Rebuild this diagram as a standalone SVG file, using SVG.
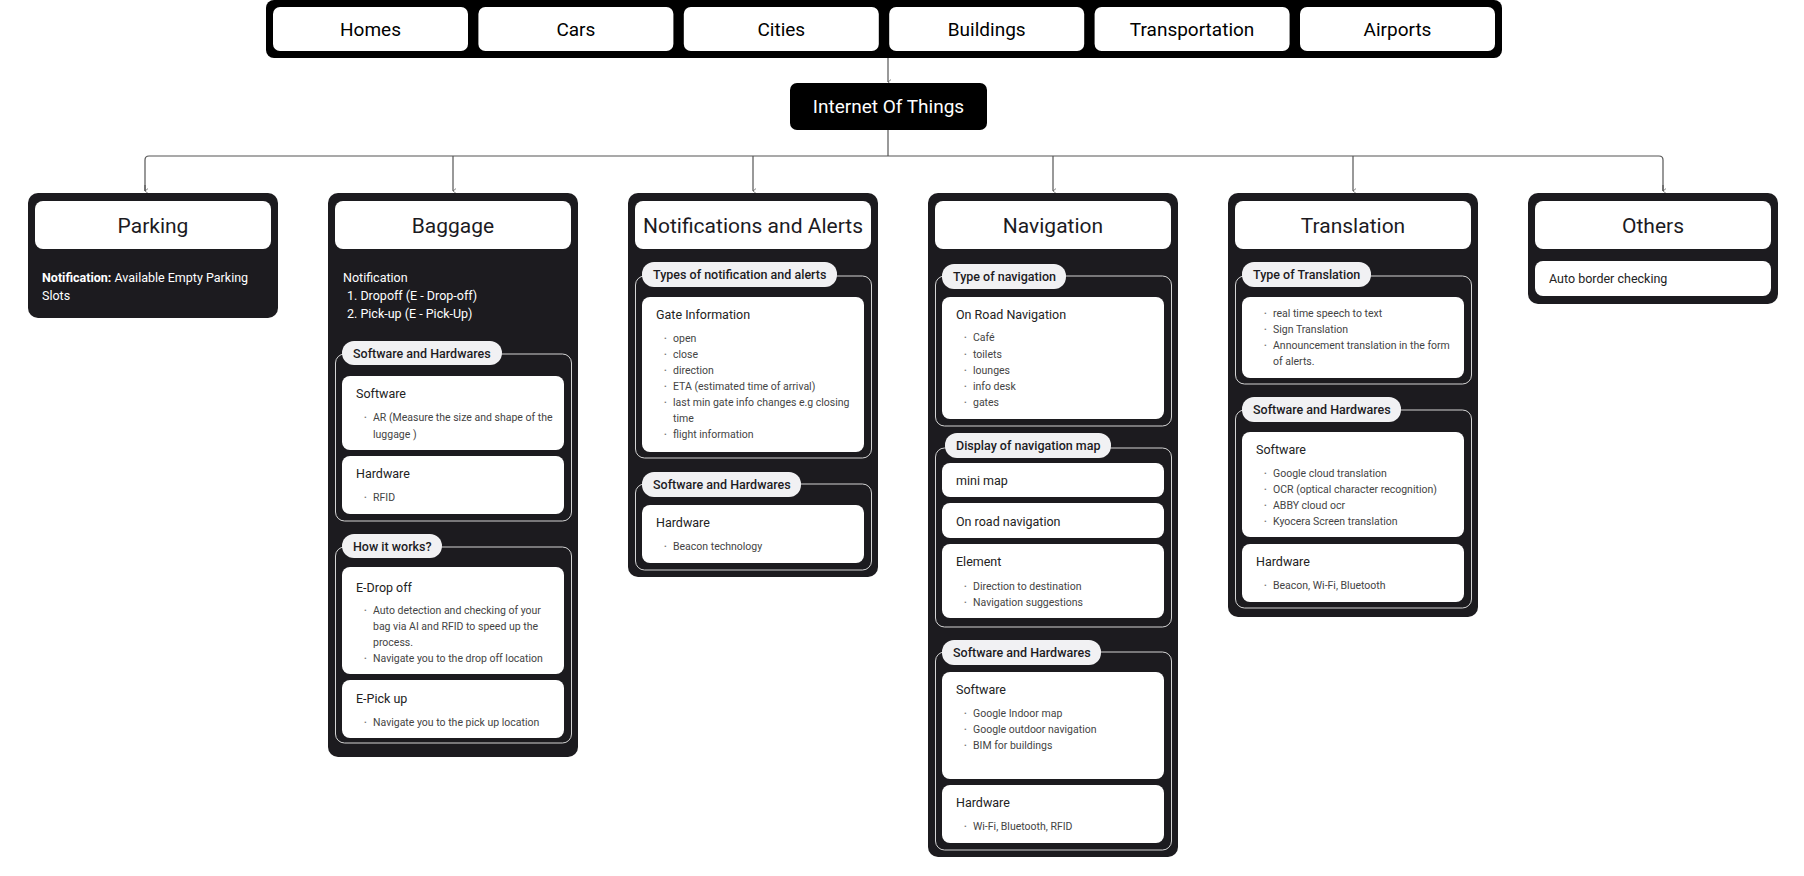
<svg xmlns="http://www.w3.org/2000/svg" width="1804" height="876" viewBox="0 0 1804 876">
<style>
text{font-family:Roboto,"Liberation Sans",sans-serif}
.panel{fill:#1c1b1f}
.hdr{fill:#fff}
.ht{font-size:21px;fill:#1c1b1f;text-anchor:middle}
.pill{fill:#fff}
.pt{font-size:19px;fill:#000;text-anchor:middle}
.ol{fill:none;stroke:#d4d4d4;stroke-width:1}
.tag{fill:#f1f1f3}
.tt{font-size:12.5px;font-weight:500;fill:#1c1b1f}
.card{fill:#fff}
.ct{font-size:12.5px;fill:#222}
.bt{font-size:10.5px;fill:#444}
.bd{font-size:8px;fill:#777}
.wt{font-size:12.5px;fill:#fff}
.con{fill:none;stroke:#555;stroke-width:1.2}
</style>
<defs>
<marker id="ah" viewBox="0 0 10 10" refX="5" refY="9" markerWidth="6" markerHeight="6" orient="auto-start-reverse" markerUnits="userSpaceOnUse"><path d="M1,4 L5,9 L9,4" fill="none" stroke="#555" stroke-width="1.2"/></marker>
</defs>
<rect width="1804" height="876" fill="#fff"/>

<g id="connectors">
<line class="con" x1="888" y1="58" x2="888" y2="82" marker-end="url(#ah)"/>
<line class="con" x1="888" y1="130" x2="888" y2="156"/>
<path class="con" d="M145,191 V160 Q145,156 149,156 H1659 Q1663,156 1663,160 V191"/>
<line class="con" x1="453" y1="156" x2="453" y2="191" marker-end="url(#ah)"/>
<line class="con" x1="753" y1="156" x2="753" y2="191" marker-end="url(#ah)"/>
<line class="con" x1="1053" y1="156" x2="1053" y2="191" marker-end="url(#ah)"/>
<line class="con" x1="1353" y1="156" x2="1353" y2="191" marker-end="url(#ah)"/>
<line class="con" x1="145" y1="185" x2="145" y2="191" marker-end="url(#ah)"/>
<line class="con" x1="1663" y1="185" x2="1663" y2="191" marker-end="url(#ah)"/>
</g>

<g id="sources">
<rect x="266" y="0" width="1236" height="58" rx="8" fill="#000"/>
<rect class="pill" x="273" y="7" width="195" height="44" rx="7"/><text class="pt" x="370.5" y="36">Homes</text>
<rect class="pill" x="478.4" y="7" width="195" height="44" rx="7"/><text class="pt" x="575.9" y="36">Cars</text>
<rect class="pill" x="683.8" y="7" width="195" height="44" rx="7"/><text class="pt" x="781.3" y="36">Cities</text>
<rect class="pill" x="889.2" y="7" width="195" height="44" rx="7"/><text class="pt" x="986.7" y="36">Buildings</text>
<rect class="pill" x="1094.6" y="7" width="195" height="44" rx="7"/><text class="pt" x="1192.1" y="36">Transportation</text>
<rect class="pill" x="1300" y="7" width="195" height="44" rx="7"/><text class="pt" x="1397.5" y="36">Airports</text>
</g>

<g id="iot">
<rect x="790" y="83" width="197" height="47" rx="7" fill="#000"/>
<text x="888.5" y="113" font-size="19" fill="#fff" text-anchor="middle">Internet Of Things</text>
</g>

<g id="parking">
<rect class="panel" x="28" y="193" width="250" height="125" rx="10"/>
<rect class="hdr" x="35" y="201" width="236" height="48" rx="8"/>
<text class="ht" x="153" y="233">Parking</text>
<text class="wt" x="42" y="282"><tspan font-weight="bold">Notification:</tspan> Available Empty Parking</text>
<text class="wt" x="42" y="300">Slots</text>
</g>

<g id="baggage">
<rect class="panel" x="328" y="193" width="250" height="564" rx="10"/>
<rect class="hdr" x="335" y="201" width="236" height="48" rx="8"/>
<text class="ht" x="453" y="233">Baggage</text>
<text class="wt" x="343" y="282">Notification</text>
<text class="wt" x="347" y="300">1. Dropoff (E - Drop-off)</text>
<text class="wt" x="347" y="318">2. Pick-up (E - Pick-Up)</text>
<rect class="ol" x="335.5" y="354" width="236" height="167" rx="9"/>
<rect class="tag" x="342" y="341" width="160" height="24" rx="12"/>
<text class="tt" x="353" y="357.5">Software and Hardwares</text>
<rect class="card" x="342" y="376" width="222" height="74" rx="8"/>
<text class="ct" x="356" y="398">Software</text>
<text class="bd" x="364" y="420">•</text><text class="bt" x="373" y="421">AR (Measure the size and shape of the</text>
<text class="bt" x="373" y="438">luggage )</text>
<rect class="card" x="342" y="456" width="222" height="58" rx="8"/>
<text class="ct" x="356" y="478">Hardware</text>
<text class="bd" x="364" y="500">•</text><text class="bt" x="373" y="501">RFID</text>
<rect class="ol" x="335.5" y="547" width="236" height="196" rx="9"/>
<rect class="tag" x="342" y="534" width="100" height="24" rx="12"/>
<text class="tt" x="353" y="550.5">How it works?</text>
<rect class="card" x="342" y="567" width="222" height="107" rx="8"/>
<text class="ct" x="356" y="592">E-Drop off</text>
<text class="bd" x="364" y="613">•</text><text class="bt" x="373" y="614">Auto detection and checking of your</text>
<text class="bt" x="373" y="630">bag via AI and RFID to speed up the</text>
<text class="bt" x="373" y="646">process.</text>
<text class="bd" x="364" y="661">•</text><text class="bt" x="373" y="662">Navigate you to the drop off location</text>
<rect class="card" x="342" y="680" width="222" height="58" rx="8"/>
<text class="ct" x="356" y="703">E-Pick up</text>
<text class="bd" x="364" y="725">•</text><text class="bt" x="373" y="726">Navigate you to the pick up location</text>
</g>

<g id="notifications">
<rect class="panel" x="628" y="193" width="250" height="384" rx="10"/>
<rect class="hdr" x="635" y="201" width="236" height="48" rx="8"/>
<text class="ht" x="753" y="233">Notifications and Alerts</text>
<rect class="ol" x="635.5" y="276" width="236" height="182" rx="9"/>
<rect class="tag" x="642" y="262" width="195" height="25" rx="12"/>
<text class="tt" x="653" y="279">Types of notification and alerts</text>
<rect class="card" x="642" y="297" width="222" height="155" rx="8"/>
<text class="ct" x="656" y="319">Gate Information</text>
<text class="bd" x="664" y="341">•</text><text class="bt" x="673" y="342">open</text>
<text class="bd" x="664" y="357">•</text><text class="bt" x="673" y="358">close</text>
<text class="bd" x="664" y="373">•</text><text class="bt" x="673" y="374">direction</text>
<text class="bd" x="664" y="389">•</text><text class="bt" x="673" y="390">ETA (estimated time of arrival)</text>
<text class="bd" x="664" y="405">•</text><text class="bt" x="673" y="406">last min gate info changes e.g closing</text>
<text class="bt" x="673" y="422">time</text>
<text class="bd" x="664" y="437">•</text><text class="bt" x="673" y="438">flight information</text>
<rect class="ol" x="635.5" y="484" width="236" height="86" rx="9"/>
<rect class="tag" x="642" y="472" width="159" height="25" rx="12"/>
<text class="tt" x="653" y="489">Software and Hardwares</text>
<rect class="card" x="642" y="505" width="222" height="58" rx="8"/>
<text class="ct" x="656" y="527">Hardware</text>
<text class="bd" x="664" y="549">•</text><text class="bt" x="673" y="550">Beacon technology</text>
</g>

<g id="navigation">
<rect class="panel" x="928" y="193" width="250" height="664" rx="10"/>
<rect class="hdr" x="935" y="201" width="236" height="48" rx="8"/>
<text class="ht" x="1053" y="233">Navigation</text>
<rect class="ol" x="935.5" y="276" width="236" height="150" rx="9"/>
<rect class="tag" x="942" y="264" width="124" height="25" rx="12"/>
<text class="tt" x="953" y="281">Type of navigation</text>
<rect class="card" x="942" y="297" width="222" height="122" rx="8"/>
<text class="ct" x="956" y="319">On Road Navigation</text>
<text class="bd" x="964" y="340">•</text><text class="bt" x="973" y="341">Café</text>
<text class="bd" x="964" y="357">•</text><text class="bt" x="973" y="358">toilets</text>
<text class="bd" x="964" y="373">•</text><text class="bt" x="973" y="374">lounges</text>
<text class="bd" x="964" y="389">•</text><text class="bt" x="973" y="390">info desk</text>
<text class="bd" x="964" y="405">•</text><text class="bt" x="973" y="406">gates</text>
<rect class="ol" x="935.5" y="448" width="236" height="179" rx="9"/>
<rect class="tag" x="945" y="433" width="166" height="25" rx="12"/>
<text class="tt" x="956" y="450">Display of navigation map</text>
<rect class="card" x="942" y="463" width="222" height="34" rx="8"/>
<text class="ct" x="956" y="485">mini map</text>
<rect class="card" x="942" y="503" width="222" height="35" rx="8"/>
<text class="ct" x="956" y="526">On road navigation</text>
<rect class="card" x="942" y="544" width="222" height="74" rx="8"/>
<text class="ct" x="956" y="566">Element</text>
<text class="bd" x="964" y="589">•</text><text class="bt" x="973" y="590">Direction to destination</text>
<text class="bd" x="964" y="605">•</text><text class="bt" x="973" y="606">Navigation suggestions</text>
<rect class="ol" x="935.5" y="652" width="236" height="198" rx="9"/>
<rect class="tag" x="942" y="640" width="159" height="25" rx="12"/>
<text class="tt" x="953" y="657">Software and Hardwares</text>
<rect class="card" x="942" y="672" width="222" height="107" rx="8"/>
<text class="ct" x="956" y="694">Software</text>
<text class="bd" x="964" y="716">•</text><text class="bt" x="973" y="717">Google Indoor map</text>
<text class="bd" x="964" y="732">•</text><text class="bt" x="973" y="733">Google outdoor navigation</text>
<text class="bd" x="964" y="748">•</text><text class="bt" x="973" y="749">BIM for buildings</text>
<rect class="card" x="942" y="785" width="222" height="58" rx="8"/>
<text class="ct" x="956" y="807">Hardware</text>
<text class="bd" x="964" y="829">•</text><text class="bt" x="973" y="830">Wi-Fi, Bluetooth, RFID</text>
</g>

<g id="translation">
<rect class="panel" x="1228" y="193" width="250" height="424" rx="10"/>
<rect class="hdr" x="1235" y="201" width="236" height="48" rx="8"/>
<text class="ht" x="1353" y="233">Translation</text>
<rect class="ol" x="1235.5" y="276" width="236" height="108" rx="9"/>
<rect class="tag" x="1242" y="262" width="129" height="25" rx="12"/>
<text class="tt" x="1253" y="279">Type of Translation</text>
<rect class="card" x="1242" y="297" width="222" height="81" rx="8"/>
<text class="bd" x="1264" y="316">•</text><text class="bt" x="1273" y="317">real time speech to text</text>
<text class="bd" x="1264" y="332">•</text><text class="bt" x="1273" y="333">Sign Translation</text>
<text class="bd" x="1264" y="348">•</text><text class="bt" x="1273" y="349">Announcement translation in the form</text>
<text class="bt" x="1273" y="365">of alerts.</text>
<rect class="ol" x="1235.5" y="410" width="236" height="198" rx="9"/>
<rect class="tag" x="1242" y="397" width="159" height="25" rx="12"/>
<text class="tt" x="1253" y="414">Software and Hardwares</text>
<rect class="card" x="1242" y="432" width="222" height="105" rx="8"/>
<text class="ct" x="1256" y="454">Software</text>
<text class="bd" x="1264" y="476">•</text><text class="bt" x="1273" y="477">Google cloud translation</text>
<text class="bd" x="1264" y="492">•</text><text class="bt" x="1273" y="493">OCR (optical character recognition)</text>
<text class="bd" x="1264" y="508">•</text><text class="bt" x="1273" y="509">ABBY cloud ocr</text>
<text class="bd" x="1264" y="524">•</text><text class="bt" x="1273" y="525">Kyocera Screen translation</text>
<rect class="card" x="1242" y="544" width="222" height="58" rx="8"/>
<text class="ct" x="1256" y="566">Hardware</text>
<text class="bd" x="1264" y="588">•</text><text class="bt" x="1273" y="589">Beacon, Wi-Fi, Bluetooth</text>
</g>

<g id="others">
<rect class="panel" x="1528" y="193" width="250" height="111" rx="10"/>
<rect class="hdr" x="1535" y="201" width="236" height="48" rx="8"/>
<text class="ht" x="1653" y="233">Others</text>
<rect class="card" x="1535" y="261" width="236" height="35" rx="8"/>
<text class="ct" x="1549" y="283">Auto border checking</text>
</g>
</svg>
